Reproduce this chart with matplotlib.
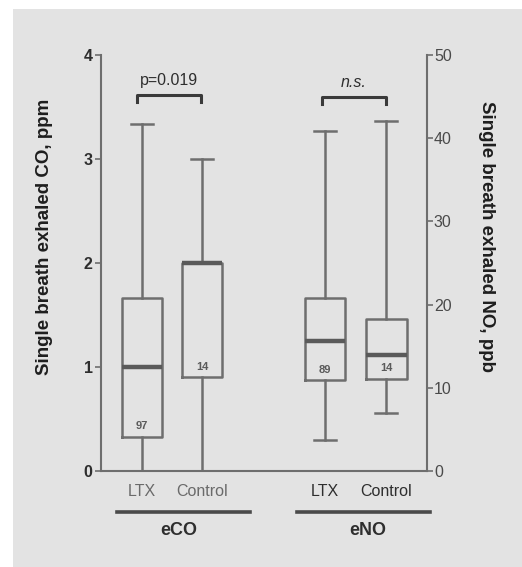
import matplotlib
matplotlib.use("Agg")
import matplotlib.pyplot as plt
import matplotlib.transforms as mtransforms
from matplotlib.patches import Rectangle

plt.rcParams["font.family"] = ["Liberation Sans", "DejaVu Sans"]

# Exhaled carbon monoxide (ppm) and nitric oxide (ppb) box statistics
groups = ["LTX", "Control"]
co_whislo = [0.0, 0.0]
co_q1 = [0.33, 0.90]
co_med = [1.00, 2.00]
co_q3 = [1.66, 2.00]
co_whishi = [3.34, 3.00]
co_n = ["97", "14"]

no_whislo = [3.7, 7.0]
no_q1 = [10.9, 11.1]
no_med = [15.6, 13.9]
no_q3 = [20.8, 18.3]
no_whishi = [40.9, 42.1]
no_n = ["89", "14"]

co_ticks = [0, 1, 2, 3, 4]
no_ticks = [0, 10, 20, 30, 40, 50]
co_p_label = "p=0.019"
no_p_label = "n.s."

LINE = "#6e6e6e"
MED = "#5a5a5a"
TXT = "#2e2e2e"
BG = "#e3e3e3"

W, H = 522, 567
fig = plt.figure(figsize=(W / 100, H / 100), dpi=100, facecolor="white")
# scanned page tone
fig.patches.append(Rectangle((13 / W, 0), 1, 1 - 9 / H, transform=fig.transFigure,
                             facecolor=BG, edgecolor="none", zorder=-10))

ax = fig.add_axes([101 / W, 1 - 471 / H, 326 / W, 416 / H])
ax.patch.set_visible(False)
ax2 = ax.twinx()
ax2.patch.set_visible(False)

pos_co = [1.0, 2.0]
pos_no = [4.05, 5.07]
xlim = (0.317, 5.75)


def stats(lo, q1, med, q3, hi):
    return [dict(whislo=a, q1=b, med=c, q3=d, whishi=e, fliers=[])
            for a, b, c, d, e in zip(lo, q1, med, q3, hi)]


common = dict(widths=0.68, capwidths=0.37, showfliers=False, patch_artist=False,
              boxprops=dict(color=LINE, linewidth=1.8),
              whiskerprops=dict(color=LINE, linewidth=1.8),
              capprops=dict(color=LINE, linewidth=1.8),
              medianprops=dict(color=MED, linewidth=3.2))

ax.bxp(stats(co_whislo, co_q1, co_med, co_q3, co_whishi), positions=pos_co, **common)
ax2.bxp(stats(no_whislo, no_q1, no_med, no_q3, no_whishi), positions=pos_no, **common)

for a in (ax, ax2):
    a.set_xlim(*xlim)
    a.spines["top"].set_visible(False)
    for s in a.spines.values():
        s.set_color(LINE)
        s.set_linewidth(1.5)

ax.set_ylim(0, 4)
ax2.set_ylim(0, 50)
ax.spines["right"].set_visible(False)
ax2.spines["left"].set_visible(False)
ax2.spines["bottom"].set_visible(False)

ax.set_yticks(co_ticks)
ax.set_yticklabels([str(t) for t in co_ticks], fontweight="bold")
ax2.set_yticks(no_ticks)
ax2.set_yticklabels([str(t) for t in no_ticks])
ax.tick_params(axis="y", length=4, width=1.2, color=LINE, pad=2, labelsize=11.5, labelcolor=TXT)
ax2.tick_params(axis="y", length=4, width=1.2, color=LINE, pad=1, labelsize=11.5, labelcolor="#4a4a4a")

ax.set_xticks(pos_co + pos_no)
ax.set_xticklabels(groups + groups)
ax.tick_params(axis="x", length=0, pad=9, labelsize=11.5)
for i, lab in enumerate(ax.get_xticklabels()):
    lab.set_color("#6a6a6a" if i < 2 else TXT)

# sample sizes inside the boxes
for x, q1, n in zip(pos_co, co_q1, co_n):
    ax.annotate(n, (x, q1), xytext=(0, 7.5), textcoords="offset points",
                ha="center", va="center", fontsize=8, fontweight="bold", color="#5a5a5a")
for x, q1, n in zip(pos_no, no_q1, no_n):
    ax2.annotate(n, (x, q1), xytext=(0, 7.5), textcoords="offset points",
                 ha="center", va="center", fontsize=8, fontweight="bold", color="#5a5a5a")


# significance brackets
def bracket(a, x0, x1, y, label, style):
    drop = 0.07 * (a.get_ylim()[1] / 4)
    a.plot([x0, x0, x1, x1], [y - drop, y, y, y - drop],
           color="#3a3a3a", linewidth=2.2, clip_on=False, solid_joinstyle="round")
    a.annotate(label, ((x0 + x1) / 2, y), xytext=(0, 10), textcoords="offset points",
               ha="center", va="center", fontsize=11.5, style=style, color=TXT)


bracket(ax, pos_co[0] - 0.08, pos_co[1] - 0.02, 3.62, co_p_label, "normal")
bracket(ax2, pos_no[0] - 0.05, pos_no[1], 45.0, no_p_label, "italic")

# group underlines and names
tr = mtransforms.blended_transform_factory(ax.transData, ax.transAxes)
for (x0, x1), xc, name in [((0.583, 2.80), 1.617, "eCO"), ((3.58, 5.80), 4.767, "eNO")]:
    ax.plot([x0, x1], [-0.0986, -0.0986], transform=tr, color="#4a4a4a",
            linewidth=2.6, clip_on=False)
    ax.text(xc, -0.142, name, transform=tr,
            ha="center", va="center", fontsize=13, fontweight="bold", color=TXT)

fig.text(45 / W, 1 - 237 / H, "Single breath exhaled CO, ppm", rotation=90,
         ha="center", va="center", fontsize=13.5, fontweight="bold", color="#1e1e1e")
fig.text(487 / W, 1 - 237 / H, "Single breath exhaled NO, ppb", rotation=-90,
         ha="center", va="center", fontsize=13.5, fontweight="bold", color="#1e1e1e")

fig.savefig("out.png", dpi=100, facecolor="white")
